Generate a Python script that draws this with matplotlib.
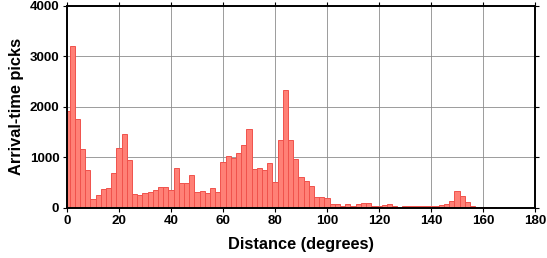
import numpy as np
import matplotlib
matplotlib.use("Agg")
from matplotlib import pyplot as plt

# bin centres (degrees), 2-degree bins
centres = list(range(0, 182, 2))

# picks per bin
picks = [
    1920, 3210, 1760, 1160, 750, 170, 250, 370, 390, 690,    # 0-18
    1185, 1460, 950, 270, 250, 300, 310, 350, 410, 400,      # 20-38
    345, 780, 490, 480, 650, 310, 330, 290, 385, 305,        # 40-58
    900, 1030, 990, 1080, 1240, 1560, 760, 780, 740, 880,    # 60-78
    510, 1340, 2340, 1340, 960, 600, 530, 430, 220, 220,     # 80-98
    200, 66, 66, 40, 73, 40, 73, 93, 93, 33,                 # 100-118
    33, 53, 73, 40, 15, 33, 27, 33, 33, 27,                  # 120-138
    27, 27, 46, 66, 139, 325, 232, 119, 33, 20,              # 140-158
    13, 10, 10, 0, 0, 0, 0, 0, 0, 0,                         # 160-178
    0,                                                       # 180
]

xticks = [0, 20, 40, 60, 80, 100, 120, 140, 160, 180]
yticks = [0, 1000, 2000, 3000, 4000]

plt.rcParams['font.family'] = ['Liberation Sans', 'DejaVu Sans']

fig = plt.figure(figsize=(5.47, 2.58), dpi=100)
ax = fig.add_axes([0.1225, 0.195, 0.978 - 0.1225, 0.978 - 0.195])

ax.bar(centres, picks, width=2.0, align='center',
       facecolor='#ff8076', edgecolor='#f0524c', linewidth=0.7, zorder=2)

ax.set_xlim(0, 180)
ax.set_ylim(0, 4000)
ax.set_xticks(xticks)
ax.set_yticks(yticks)
ax.grid(True, color='#8c8c8c', linewidth=0.6, zorder=0)

ax.tick_params(direction='out', length=3, width=0.8, labelsize=9.6,
               top=True, right=True, pad=2.5)
for lab in ax.get_xticklabels() + ax.get_yticklabels():
    lab.set_fontweight('bold')

for s in ax.spines.values():
    s.set_linewidth(1.4)
    s.set_zorder(3)

ax.set_xlabel('Distance (degrees)', fontsize=11.8, fontweight='bold', labelpad=7)
ax.set_ylabel('Arrival-time picks', fontsize=11.8, fontweight='bold', labelpad=4)

fig.savefig('out.png', dpi=100)
